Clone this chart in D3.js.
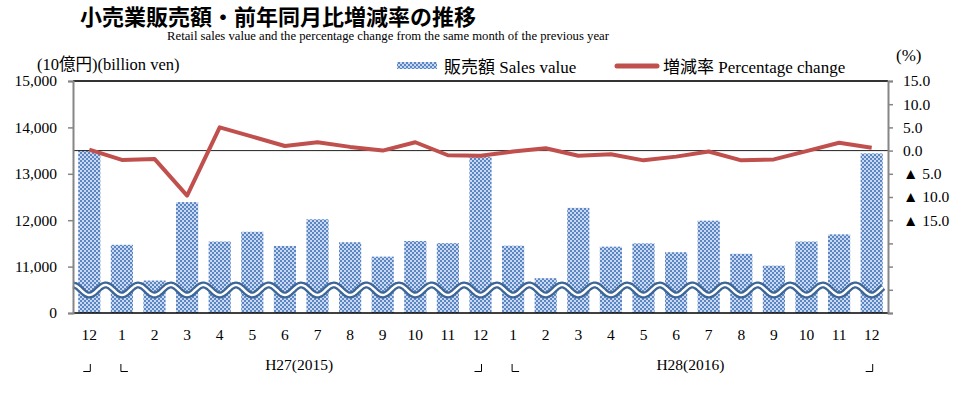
<!DOCTYPE html>
<html lang="ja">
<head>
<meta charset="UTF-8" />
<title>小売業販売額・前年同月比増減率の推移</title>
<script src="https://d3js.org/d3.v7.min.js"></script>
<style>
  body { margin: 0; background: #fff; }
  svg { display: block; }
  text { font-family: "Liberation Serif", "Noto Sans CJK JP", serif; fill: #000; }
  .title { font-family: "Noto Sans CJK JP", sans-serif; font-weight: 700; font-size: 22px; }
</style>
</head>
<body>
<svg id="chart" width="975" height="396"></svg>
<script>
// data
const months = ["12","1","2","3","4","5","6","7","8","9","10","11","12","1","2","3","4","5","6","7","8","9","10","11","12"];
const sales = [13510, 11470, 10700, 12390, 11540, 11750, 11445, 12020, 11525, 11215, 11552, 11505,
               13360, 11450, 10750, 12265, 11430, 11500, 11310, 11990, 11275, 11020, 11540, 11695, 13440];
const change = [0.2, -2.0, -1.8, -9.7, 5.0, 3.0, 1.0, 1.8, 0.8, 0.0, 1.8, -1.0,
                -1.1, -0.2, 0.5, -1.1, -0.8, -2.1, -1.3, -0.2, -2.1, -1.9, -0.1, 1.7, 0.6];
const leftTicks = [10000, 11000, 12000, 13000, 14000, 15000];
const leftTickLabels = ["0", "11,000", "12,000", "13,000", "14,000", "15,000"];
const rightTicks = [15, 10, 5, 0, -5, -10, -15, -20, -25, -30, -35];
const yearLabels = [{ text: "H27(2015)", from: 1, to: 12 }, { text: "H28(2016)", from: 13, to: 24 }];
// year boundary marks: "end" = ┘ , "start" = └
const brackets = [{ i: 0, kind: "end" }, { i: 1, kind: "start" }, { i: 12, kind: "end" }, { i: 13, kind: "start" }, { i: 24, kind: "end" }];

const svg = d3.select("#chart");
const defs = svg.append("defs");
const mLeft = 73, mRight = 888, mTop = 81, mBottom = 313;

const x = d3.scaleBand().domain(d3.range(months.length)).range([mLeft, mRight]).paddingInner(0.32).paddingOuter(0.16);
const y = d3.scaleLinear().domain([10000, 15000]).range([mBottom, mTop]);
const y2 = d3.scaleLinear().domain([-35, 15]).range([mBottom, mTop]);
const cx = i => x(i) + x.bandwidth() / 2;

// dotted fill for bars
const pat = defs.append("pattern").attr("id", "dots").attr("patternUnits", "userSpaceOnUse")
  .attr("width", 4).attr("height", 4);
pat.append("rect").attr("width", 4).attr("height", 4).attr("fill", "#cad9ef");
pat.append("rect").attr("x", 0).attr("y", 0).attr("width", 2).attr("height", 2).attr("fill", "#5a86c4");
pat.append("rect").attr("x", 2).attr("y", 2).attr("width", 2).attr("height", 2).attr("fill", "#5a86c4");

// titles
svg.append("text").attr("class", "title").attr("x", 80).attr("y", 25).text("小売業販売額・前年同月比増減率の推移");
svg.append("text").attr("x", 388).attr("y", 40).attr("text-anchor", "middle").attr("font-size", 12.7)
  .text("Retail sales value and the percentage change from the same month of the previous year");
svg.append("text").attr("x", 37).attr("y", 70).attr("font-size", 16.5).text("(10億円)(billion ven)");
svg.append("text").attr("x", 896).attr("y", 61).attr("font-size", 17).text("(%)");

// legend
svg.append("rect").attr("x", 397).attr("y", 62).attr("width", 40).attr("height", 7).attr("fill", "url(#dots)");
svg.append("text").attr("x", 444).attr("y", 73).attr("font-size", 17).text("販売額 Sales value");
svg.append("line").attr("x1", 617).attr("x2", 657).attr("y1", 66).attr("y2", 66)
  .attr("stroke", "#c0504d").attr("stroke-width", 5).attr("stroke-linecap", "round");
svg.append("text").attr("x", 663).attr("y", 73).attr("font-size", 17).text("増減率 Percentage change");

// bars
svg.append("g").selectAll("rect").data(sales).join("rect")
  .attr("x", (d, i) => x(i)).attr("width", x.bandwidth())
  .attr("y", d => y(d)).attr("height", d => mBottom - y(d))
  .attr("fill", "url(#dots)");

// zero line of the right axis
svg.append("line").attr("x1", mLeft).attr("x2", mRight).attr("y1", y2(0)).attr("y2", y2(0))
  .attr("stroke", "#222").attr("stroke-width", 1);

// axis break wave
const waveY = 290, amp = 5;
const wavePts = d3.range(mLeft, mRight - 4, 1).map(px => {
  const t = (px - cx(0)) / x.step();
  return [px, waveY + amp * Math.cos(2 * Math.PI * t)];
});
const wave = d3.line().curve(d3.curveBasis);
svg.append("path").attr("d", wave(wavePts)).attr("fill", "none").attr("stroke", "#3d6696").attr("stroke-width", 7);
svg.append("path").attr("d", wave(wavePts)).attr("fill", "none").attr("stroke", "#fff").attr("stroke-width", 2.4);

// change line
svg.append("path").datum(change)
  .attr("d", d3.line().x((d, i) => cx(i)).y(d => y2(d)))
  .attr("fill", "none").attr("stroke", "#c0504d").attr("stroke-width", 4).attr("stroke-linejoin", "round");

// frame and axes
svg.append("line").attr("x1", mLeft).attr("x2", mRight).attr("y1", mTop).attr("y2", mTop).attr("stroke", "#333").attr("stroke-width", 2);
svg.append("line").attr("x1", mLeft).attr("x2", mRight).attr("y1", mBottom).attr("y2", mBottom).attr("stroke", "#000").attr("stroke-width", 1.5);

const yAxisL = svg.append("g").attr("transform", `translate(${mLeft},0)`)
  .call(d3.axisLeft(y).tickValues(leftTicks).tickFormat((d, i) => leftTickLabels[i]).tickSize(5).tickPadding(11));
const yAxisR = svg.append("g").attr("transform", `translate(${mRight},0)`)
  .call(d3.axisRight(y2).tickValues(rightTicks).tickSize(5).tickPadding(10)
    .tickFormat(d => d < -15 ? "" : d < 0 ? "▲ " + (-d).toFixed(1) : d.toFixed(1)));
[yAxisL, yAxisR].forEach(a => {
  a.select(".domain").attr("stroke", "#868686").attr("stroke-width", 2);
  a.selectAll(".tick line").attr("stroke", "#868686").attr("stroke-width", 1.5);
  a.selectAll("text").attr("font-size", 15.5).attr("font-family", '"Liberation Serif", "DejaVu Sans", serif');
});

// month labels
svg.append("g").selectAll("text").data(months).join("text")
  .attr("x", (d, i) => cx(i)).attr("y", 340).attr("text-anchor", "middle").attr("font-size", 15.5).text(d => d);

// year boundary brackets
svg.append("g").selectAll("path").data(brackets).join("path")
  .attr("d", d => {
    const p = d3.path(), c = cx(d.i);
    if (d.kind === "end") { p.moveTo(c + 1, 364); p.lineTo(c + 1, 371.5); p.lineTo(c - 6, 371.5); }
    else { p.moveTo(c - 1, 364); p.lineTo(c - 1, 371.5); p.lineTo(c + 6, 371.5); }
    return p.toString();
  })
  .attr("fill", "none").attr("stroke", "#000").attr("stroke-width", 1);

svg.append("g").selectAll("text").data(yearLabels).join("text")
  .attr("x", d => (cx(d.from) + cx(d.to)) / 2 - 2).attr("y", 370).attr("text-anchor", "middle")
  .attr("font-size", 15.5).text(d => d.text);
</script>
</body>
</html>
